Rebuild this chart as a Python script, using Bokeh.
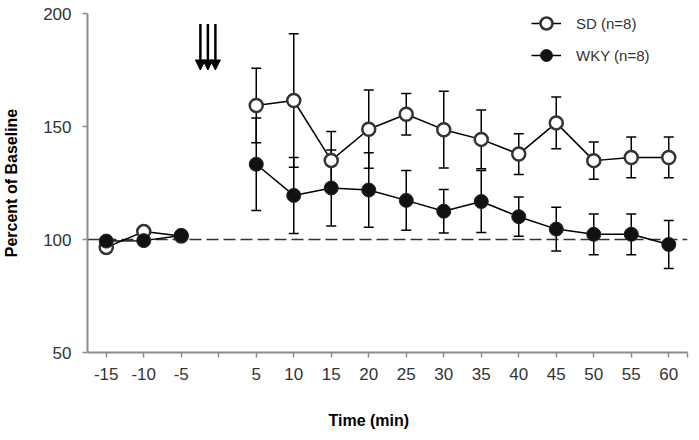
from bokeh.plotting import figure
from bokeh.models import (ColumnDataSource, Whisker, TeeHead, Span, Arrow, NormalHead, LinearAxis,
                          Title, Legend, LegendItem, FixedTicker, CustomJSTickFormatter, Range1d)
from bokeh.embed import file_html
from bokeh.resources import INLINE

# ---- data ----
time_min = [-15, -10, -5, 5, 10, 15, 20, 25, 30, 35, 40, 45, 50, 55, 60]
sd_mean = [96.5, 103.5, 101.5, 159.3, 161.5, 135.0, 148.8, 155.4, 148.6, 144.3, 137.8, 151.6, 134.9, 136.3, 136.3]
sd_err = [0, 0, 0, 16.5, 29.5, 12.8, 17.3, 9.2, 17.0, 13.0, 9.0, 11.5, 8.2, 9.0, 9.0]
wky_mean = [99.3, 99.5, 101.8, 133.3, 119.5, 122.8, 121.9, 117.3, 112.5, 116.8, 110.1, 104.6, 102.3, 102.3, 97.8]
wky_err = [0, 0, 0, 20.5, 16.8, 16.8, 16.5, 13.2, 9.6, 13.7, 8.7, 9.7, 9.0, 9.0, 10.6]
x_ticks = [-15, -10, -5, 0, 5, 10, 15, 20, 25, 30, 35, 40, 45, 50, 55, 60, 62.5]
y_ticks = [50, 100, 150, 200]
baseline = 100
injection_x = [-2.45, -1.45, -0.45]
sd_label = "SD (n=8)"
wky_label = "WKY (n=8)"
x_title = "Time (min)"
y_title = "Percent of Baseline"

FONT = "Liberation Sans"
AXIS_GRAY = "#8c8c8c"
TEXT = "#333333"

p = figure(width=692, height=436, output_backend="svg", toolbar_location=None,
           x_range=Range1d(-17.5, 62.5), y_range=Range1d(50, 200),
           min_border_left=86, min_border_right=5, min_border_top=13, min_border_bottom=84)
p.outline_line_color = None
p.xgrid.grid_line_color = None
p.ygrid.grid_line_color = None
p.background_fill_color = "white"

for ax in (p.xaxis[0], p.yaxis[0]):
    ax.axis_line_color = AXIS_GRAY
    ax.axis_line_width = 2
    ax.major_tick_line_color = AXIS_GRAY
    ax.major_tick_line_width = 1.5
    ax.major_tick_out = 5
    ax.major_tick_in = 0
    ax.minor_tick_line_color = None
    ax.major_label_text_font = FONT
    ax.major_label_text_font_size = "17px"
    ax.major_label_text_color = TEXT

p.xaxis.ticker = FixedTicker(ticks=x_ticks)
p.xaxis.formatter = CustomJSTickFormatter(code="return (tick == 0 || tick > 61) ? '' : tick.toFixed(0);")
p.xaxis.major_label_standoff = 10
p.yaxis.ticker = FixedTicker(ticks=y_ticks)
p.yaxis.major_label_standoff = 11
p.yaxis.axis_label = y_title
p.yaxis.axis_label_text_font = FONT
p.yaxis.axis_label_text_font_size = "16px"
p.yaxis.axis_label_text_font_style = "bold"
p.yaxis.axis_label_text_color = "black"
p.yaxis.axis_label_standoff = 20

# invisible spacer axis between the tick labels and the x title
spacer = LinearAxis(ticker=FixedTicker(ticks=[0]), axis_line_color=None,
                    major_tick_line_color=None, minor_tick_line_color=None,
                    major_tick_out=27, major_tick_in=0, major_label_standoff=0,
                    major_label_text_font_size="1px", major_label_text_alpha=0,
                    formatter=CustomJSTickFormatter(code="return '';"))
p.add_layout(spacer, "below")

def make_src(mean, err):
    return ColumnDataSource(dict(t=time_min, m=mean,
                                 up=[a + b for a, b in zip(mean, err)],
                                 lo=[a - b for a, b in zip(mean, err)]))

sd_src = make_src(sd_mean, sd_err)
wky_src = make_src(wky_mean, wky_err)

p.add_layout(Span(location=baseline, dimension="width", line_color="#333333",
                  line_width=1.5, line_dash="12 5", level="underlay"))

def whisk(src):
    return Whisker(source=src, base="t", upper="up", lower="lo", line_color="black",
                   line_width=1.5, level="underlay",
                   upper_head=TeeHead(size=10, line_color="black", line_width=1.5),
                   lower_head=TeeHead(size=10, line_color="black", line_width=1.5))

p.add_layout(whisk(sd_src))
p.add_layout(whisk(wky_src))

# SD
p.line(time_min[:3], sd_mean[:3], line_color="black", line_width=1.5)
sd_line = p.line(time_min[3:], sd_mean[3:], line_color="black", line_width=1.5)
sd_pts = p.scatter("t", "m", source=sd_src, size=13, fill_color="white",
                   line_color="#333333", line_width=2.5)
# WKY
p.line(time_min[:3], wky_mean[:3], line_color="black", line_width=1.5)
wky_line = p.line(time_min[3:], wky_mean[3:], line_color="black", line_width=1.5)
wky_pts = p.scatter("t", "m", source=wky_src, size=14, fill_color="#111111",
                    line_color="#222222", line_width=1)

# injection arrows
for ix in injection_x:
    p.add_layout(Arrow(x_start=ix, y_start=195.3, x_end=ix, y_end=175.0,
                       line_color="black", line_width=2.5,
                       end=NormalHead(size=10, fill_color="black", line_color="black", line_width=1)))

legend = Legend(items=[LegendItem(label=sd_label, renderers=[sd_line, sd_pts]),
                       LegendItem(label=wky_label, renderers=[wky_line, wky_pts])],
                location=(444, 282), orientation="vertical",
                glyph_width=30, glyph_height=30, label_height=30, spacing=2,
                label_standoff=15, padding=0, margin=0,
                border_line_alpha=0, background_fill_alpha=0,
                label_text_font=FONT, label_text_font_size="15px", label_text_color=TEXT)
p.add_layout(legend)

p.add_layout(Title(text=x_title, align="left", offset=241, standoff=0,
                   text_font=FONT, text_font_size="16px", text_font_style="bold",
                   text_color="black"), "below")

open("out.html", "w").write(file_html(p, INLINE))
